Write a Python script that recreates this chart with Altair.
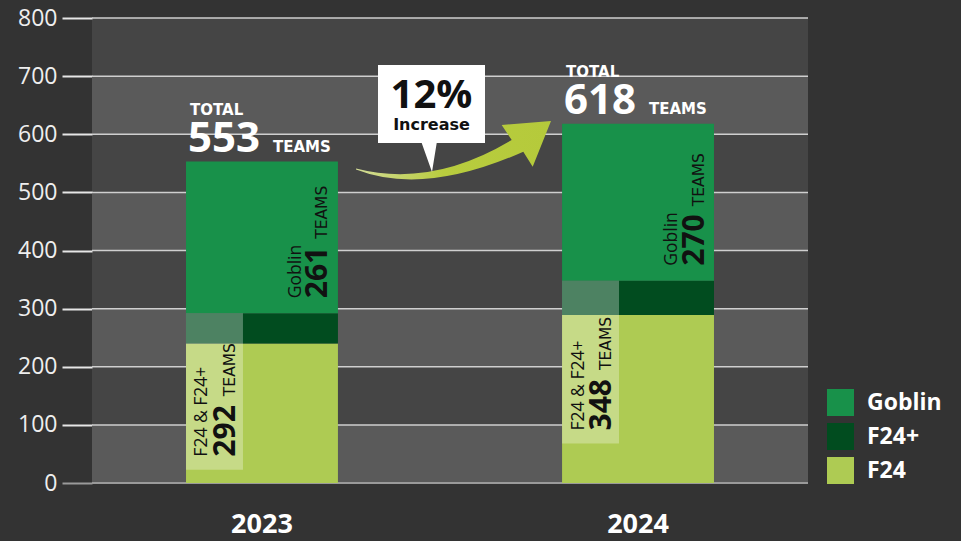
import altair as alt
import pandas as pd

# ---------------- data ----------------
years = ["2023", "2024"]
f24 = [240, 289]
f24_plus = [52, 59]
goblin = [261, 270]
segments = ["Goblin", "F24+", "F24"]          # legend order
segment_colors = ["#18914a", "#014c1f", "#aecb53"]
tick_values = [0, 100, 200, 300, 400, 500, 600, 700, 800]

combined = [a + b for a, b in zip(f24, f24_plus)]
totals = [c + g for c, g in zip(combined, goblin)]
pct_increase = round((totals[1] - totals[0]) / totals[0] * 100)

# ---------------- layout / style ----------------
PLOT_W, PLOT_H = 716, 465
LEFT, TOP = 92, 18
label_box_floor = [23, 68]      # bottom of the light label panels (in teams units)
DIGIT_FONT = "Open Sans"
CAPS_FONT = "DejaVu Sans"

x_scale = alt.Scale(domain=years, paddingInner=0.596, paddingOuter=0.25)
y_scale = alt.Scale(domain=[0, 800], nice=False, zero=True)

X_AXIS = alt.Axis(labelAngle=0, ticks=False, domain=False, labelPadding=28,
                  labelFont=DIGIT_FONT, labelFontSize=27, labelFontWeight="bold",
                  labelColor="#ffffff", title=None)
Y_AXIS = alt.Axis(values=tick_values, grid=False, domain=False, tickSize=30,
                  tickWidth=2,
                  tickColor=alt.condition("datum.value == 0", alt.value("#9a9a9a"),
                                          alt.value("#e6e6e6")),
                  labelPadding=5, labelFont=DIGIT_FONT, labelFontSize=23,
                  labelColor="#eeeeee", title=None)


def X():
    return alt.X("year:N", scale=x_scale, axis=X_AXIS, title=None)


def Y(field, **kw):
    return alt.Y(field, scale=y_scale, axis=Y_AXIS, title=None, **kw)


# ---------------- tables ----------------
rows = []
stack_order = {"F24": 0, "F24+": 1, "Goblin": 2}
for i, yr in enumerate(years):
    for seg, vals in (("F24", f24), ("F24+", f24_plus), ("Goblin", goblin)):
        rows.append({"year": yr, "segment": seg, "teams": vals[i], "order": stack_order[seg]})
bars_df = pd.DataFrame(rows)

bands_df = pd.DataFrame({"lo": tick_values[0:-1:2], "hi": tick_values[1::2]})
grid_df = pd.DataFrame({"v": tick_values[1:]})
zero_df = pd.DataFrame({"v": [tick_values[0]]})

overlay_df = pd.DataFrame({"year": years, "lo": label_box_floor, "hi": combined})

gob_df = pd.DataFrame({"year": years, "anchor": combined, "label": ["Goblin"] * 2,
                       "num": [str(v) for v in goblin], "unit": ["TEAMS"] * 2})
f24_df = pd.DataFrame({"year": years, "anchor": label_box_floor, "label": ["F24 & F24+"] * 2,
                       "num": [str(v) for v in combined], "unit": ["TEAMS"] * 2})
tot_df = pd.DataFrame({"year": years, "anchor": totals, "label": ["TOTAL"] * 2,
                       "num": [str(v) for v in totals], "unit": ["TEAMS"] * 2})
callout_df = pd.DataFrame({"big": [f"{pct_increase}%"], "small": ["Increase"]})

# ---------------- layers ----------------
bands = alt.Chart(bands_df).mark_rect(color="#5a5a5a").encode(
    y=Y("lo:Q"),
    y2="hi:Q",
    x=alt.value(0),
    x2=alt.value(PLOT_W),
)

grid = alt.Chart(grid_df).mark_rule(color="#cfcfcf", strokeWidth=1.5).encode(y=Y("v:Q"))
zero = alt.Chart(zero_df).mark_rule(color="#9a9a9a", strokeWidth=2).encode(y=Y("v:Q"))

bars = alt.Chart(bars_df).mark_bar().encode(
    x=X(),
    y=Y("teams:Q", stack="zero"),
    color=alt.Color("segment:N", scale=alt.Scale(domain=segments, range=segment_colors),
                    legend=alt.Legend(title=None, orient="none", legendX=735, legendY=371,
                                      symbolType="square", symbolSize=729,
                                      symbolStrokeWidth=0, symbolOpacity=1,
                                      rowPadding=7, labelOffset=13, padding=0,
                                      labelFont=DIGIT_FONT, labelFontSize=23,
                                      labelFontWeight="bold", labelColor="#ffffff")),
    order=alt.Order("order:Q", sort="ascending"),
)

overlay = alt.Chart(overlay_df).mark_bar(color="#ffffff", opacity=0.3, width=57,
                                          xOffset=-47.5).encode(
    x=X(),
    y=Y("lo:Q"),
    y2="hi:Q",
)


def txt(df, field, dx, dy, size, font, weight="normal", color="#111111", angle=0,
        align="left"):
    return alt.Chart(df).mark_text(
        align=align, baseline="alphabetic", angle=angle, font=font, fontSize=size,
        fontWeight=weight, color=color, xOffset=dx, yOffset=dy,
    ).encode(
        x=X(),
        y=Y("anchor:Q"),
        text=f"{field}:N",
    )


texts = [
    txt(gob_df, "label", 39, -15, 17.5, DIGIT_FONT, 500, angle=270),
    txt(gob_df, "num", 65.5, -15, 30, DIGIT_FONT, "bold", angle=270),
    txt(gob_df, "unit", 65.5, -74.5, 15.5, CAPS_FONT, "normal", angle=270),
    txt(f24_df, "label", -54.5, -13, 17.5, DIGIT_FONT, 500, angle=270),
    txt(f24_df, "num", -27, -13, 30, DIGIT_FONT, "bold", angle=270),
    txt(f24_df, "unit", -27, -73.5, 15.5, CAPS_FONT, "normal", angle=270),
    txt(tot_df, "label", -72, -47, 15, CAPS_FONT, "bold", color="#ffffff"),
    txt(tot_df, "num", -74, -9.5, 42, DIGIT_FONT, "bold", color="#ffffff"),
    txt(tot_df, "unit", 11, -9.5, 15, CAPS_FONT, "bold", color="#ffffff"),
]

# curved arrow and speech-bubble callout (pixel paths, anchored at plot origin)
ARROW_PATH = ("M264,150.5 Q340,170 419.7,122 L409.7,107 L459,103 L440.7,148.7 "
              "L431.3,133.7 Q332,178 264,151.5 Z")
BUBBLE_PATH = "M286,47 L393,47 L393,125 L344.7,125 L340,154 L329.7,125 L286,125 Z"

one = pd.DataFrame({"k": [0]})
arrow = alt.Chart(one).mark_point(
    shape=ARROW_PATH, size=4, filled=True, opacity=1, strokeWidth=0,
    fill=alt.Gradient(gradient="linear",
                      stops=[alt.GradientStop(color="#d3dc97", offset=0),
                             alt.GradientStop(color="#b8cc3e", offset=0.45),
                             alt.GradientStop(color="#b5ca3b", offset=1)],
                      x1=0, x2=1, y1=0, y2=0),
).encode(x=alt.value(0), y=alt.value(0))

bubble = alt.Chart(one).mark_point(
    shape=BUBBLE_PATH, size=4, filled=True, opacity=1, strokeWidth=0, fill="#ffffff"
).encode(x=alt.value(0), y=alt.value(0))

big_txt = alt.Chart(callout_df).mark_text(
    align="center", baseline="alphabetic", font=DIGIT_FONT, fontSize=40,
    fontWeight="bold", color="#111111"
).encode(x=alt.value(339.5), y=alt.value(90.3), text="big:N")

small_txt = alt.Chart(callout_df).mark_text(
    align="center", baseline="alphabetic", font=CAPS_FONT, fontSize=16,
    fontWeight="bold", color="#111111"
).encode(x=alt.value(339.5), y=alt.value(112), text="small:N")

chart = alt.layer(
    bands, grid, zero, bars, overlay, *texts, arrow, bubble, big_txt, small_txt
).properties(
    width=PLOT_W, height=PLOT_H,
    autosize=alt.AutoSizeParams(type="none"),
    padding={"left": LEFT, "top": TOP, "right": 961 - LEFT - PLOT_W,
             "bottom": 541 - TOP - PLOT_H},
    background="#333333",
).configure_view(fill="#454545", stroke=None)

chart.save("out.html", embed_options={"renderer": "svg", "actions": False})
